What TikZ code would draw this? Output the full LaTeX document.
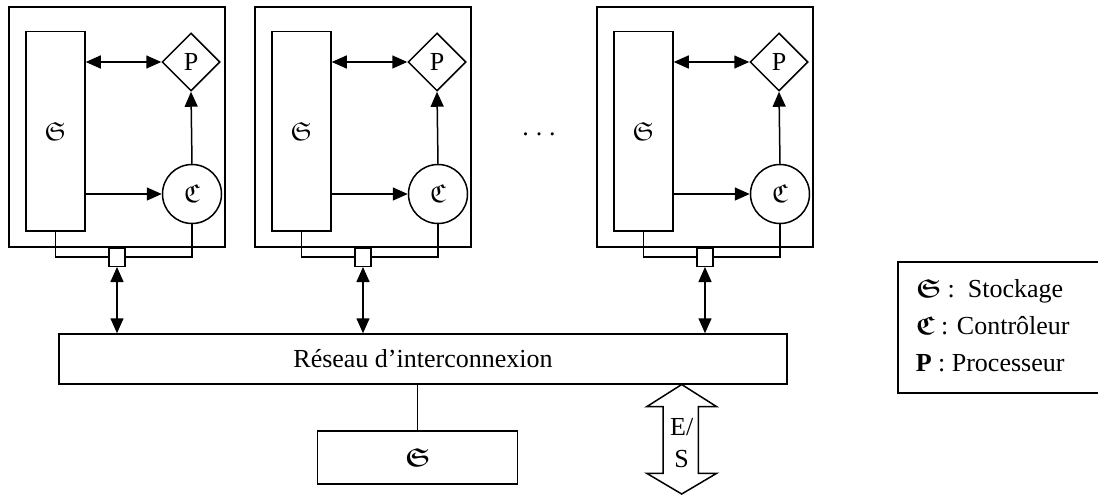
\documentclass[tikz,border=0pt]{standalone}
\usepackage{amsmath}
\usepackage{amssymb}
\usepackage{fontspec}
\setmainfont{Liberation Serif}
\usetikzlibrary{arrows.meta,shapes.geometric}
\begin{document}
\begin{tikzpicture}[x=1pt,y=-1pt, line width=1.5pt,
  box/.style={draw, rectangle, inner sep=0pt},
  arr/.style={-{Triangle[length=15pt,width=13pt]}},
  darr/.style={{Triangle[length=15pt,width=13pt]}-{Triangle[length=15pt,width=13pt]}},
  every node/.style={font=\fontsize{26}{32}\selectfont}]
\useasboundingbox (0,0) rectangle (1098,495);

% network
\node[box, minimum width=728pt, minimum height=50pt] (N) at (423,359) {Réseau d’interconnexion};

\foreach \L/\n in {9/a,255/b,597/c}{
  \node[box, minimum width=216pt, minimum height=240pt] (M\n) at (\L+108,127) {};
  \node[box, minimum width=59pt, minimum height=199.5pt] (S\n) at (\L+46.5,131.25) {$\mathfrak{S}$};
  \node[draw, diamond, aspect=1, minimum width=58pt, minimum height=58pt, inner sep=0pt] (P\n) at (\L+182,62) {P};
  \node[draw, circle, minimum size=59pt, inner sep=0pt] (C\n) at (\L+183,194) {$\mathfrak{C}$};
  \node[box, fill=white, minimum width=16pt, minimum height=18.5pt] (Q\n) at (\L+108,257) {};
  \draw[darr] (S\n.east |- P\n.west) -- (P\n.west);
  \draw[arr] (S\n.east |- C\n.west) -- (C\n.west);
  \draw[arr] (C\n.north) -- (P\n.south);
  \draw (S\n.south) -- (S\n.south |- Q\n.west) -- (Q\n.west);
  \draw (C\n.south) -- (C\n.south |- Q\n.east) -- (Q\n.east);
  \draw[darr] (Q\n.south) -- (Q\n.south |- N.north);
}

\node[anchor=base] (dots) at (539,135) {.\kern7pt.\kern7pt.};

% bottom storage
\node[box, minimum width=200pt, minimum height=53pt] (B) at (417.7,457.5) {$\boldsymbol{\mathfrak{S}}$};
\draw (B.north) -- (B.north |- N.south);

% E/S arrow
\coordinate (io) at (681.7,384.5);
\draw[fill=white] (io) -- ++(35,22.2) -- ++(-18.4,0) -- ++(0,66.6) -- ++(18.4,0) -- (681.7,494) -- (646.7,473.3) -- ++(16.3,0) -- ++(0,-66.6) -- ++(-16.3,0) -- cycle;
\node[align=center, inner sep=0pt] (IOt) at (681.7,443) {E/\\S};

% legend
\node[box, anchor=north west, minimum width=215pt, minimum height=131pt] (Lg) at (897,261) {};
\node[anchor=base west, inner sep=0pt] (l1) at (915,297) {$\boldsymbol{\mathfrak{S}}$ :\ \ Stockage};
\node[anchor=base west, inner sep=0pt] (l2) at (915,334) {$\boldsymbol{\mathfrak{C}}$ : Contrôleur};
\node[anchor=base west, inner sep=0pt] (l3) at (915,371) {\textbf{P} : Processeur};
\end{tikzpicture}
\end{document}
